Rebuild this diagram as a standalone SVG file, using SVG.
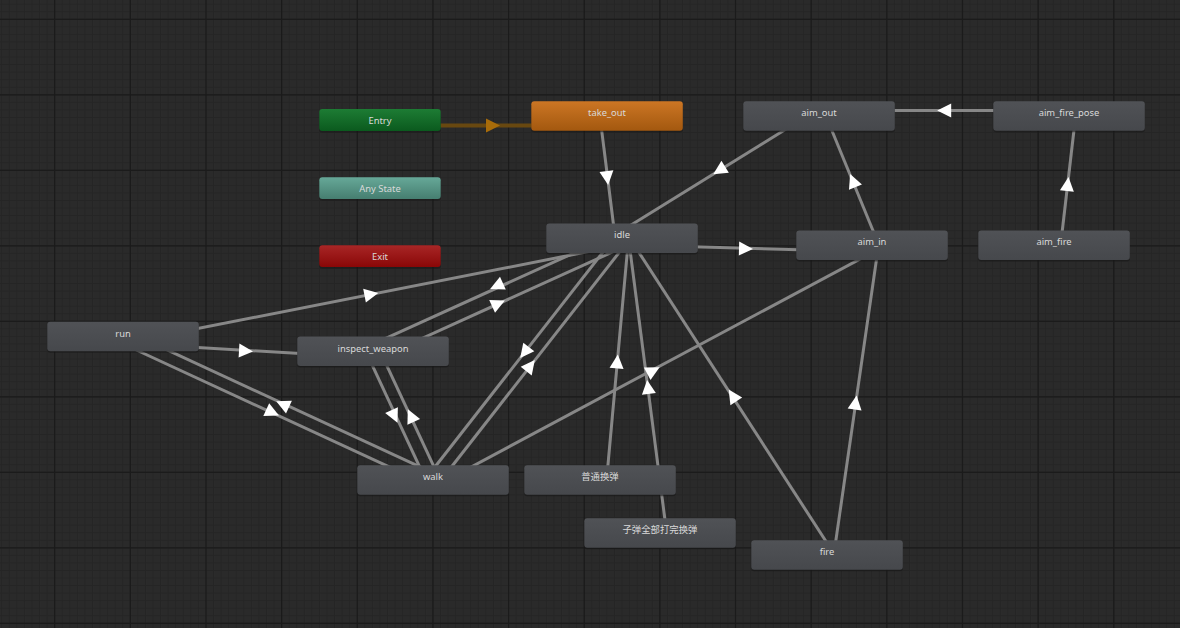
<svg xmlns="http://www.w3.org/2000/svg" width="1180" height="628" viewBox="0 0 1180 628">
<defs>
<pattern id="minor" x="54.2" y="18.8" width="7.565" height="7.55" patternUnits="userSpaceOnUse">
<path d="M0 0.5H7.565M0.5 0V7.55" stroke="#252525" stroke-width="1" fill="none"/>
</pattern>
<linearGradient id="gGrey" x1="0" y1="0" x2="0" y2="1"><stop offset="0" stop-color="#505256"/><stop offset="1" stop-color="#46484c"/></linearGradient>
<linearGradient id="gOrange" x1="0" y1="0" x2="0" y2="1"><stop offset="0" stop-color="#cc7624"/><stop offset="1" stop-color="#a3580f"/></linearGradient>
<linearGradient id="gGreen" x1="0" y1="0" x2="0" y2="1"><stop offset="0" stop-color="#1d7c34"/><stop offset="1" stop-color="#0b5a1e"/></linearGradient>
<linearGradient id="gTeal" x1="0" y1="0" x2="0" y2="1"><stop offset="0" stop-color="#66a898"/><stop offset="1" stop-color="#467e70"/></linearGradient>
<linearGradient id="gRed" x1="0" y1="0" x2="0" y2="1"><stop offset="0" stop-color="#a82626"/><stop offset="1" stop-color="#8a0707"/></linearGradient>
<path id="arrow" d="M7 0L-7 -7L-7 7Z"/>
<style>
.bg{fill:#2a2a2a}
.major{stroke:#1b1b1b;stroke-width:1.2}
.conn line{stroke:#878787;stroke-width:3}
.ah{fill:#ffffff}
.shadow{fill:#161616;opacity:0.55}
.grey{fill:url(#gGrey)}
.lbl{font-family:"Noto Sans","Noto Sans CJK SC",sans-serif;font-size:9.4px;fill:#d9d9d9;text-anchor:middle}
</style>
</defs>
<rect class="bg" x="0" y="0" width="1180" height="628"/>
<rect x="0" y="0" width="1180" height="628" fill="url(#minor)"/>
<g class="major">
<line x1="54.7" y1="0" x2="54.7" y2="628"/><line x1="130.35" y1="0" x2="130.35" y2="628"/><line x1="206" y1="0" x2="206" y2="628"/><line x1="281.65" y1="0" x2="281.65" y2="628"/><line x1="357.3" y1="0" x2="357.3" y2="628"/><line x1="432.95" y1="0" x2="432.95" y2="628"/><line x1="508.6" y1="0" x2="508.6" y2="628"/><line x1="584.25" y1="0" x2="584.25" y2="628"/><line x1="659.9" y1="0" x2="659.9" y2="628"/><line x1="735.55" y1="0" x2="735.55" y2="628"/><line x1="811.2" y1="0" x2="811.2" y2="628"/><line x1="886.85" y1="0" x2="886.85" y2="628"/><line x1="962.5" y1="0" x2="962.5" y2="628"/><line x1="1038.15" y1="0" x2="1038.15" y2="628"/><line x1="1113.8" y1="0" x2="1113.8" y2="628"/>
<line x1="0" y1="19.3" x2="1180" y2="19.3"/><line x1="0" y1="94.8" x2="1180" y2="94.8"/><line x1="0" y1="170.3" x2="1180" y2="170.3"/><line x1="0" y1="245.8" x2="1180" y2="245.8"/><line x1="0" y1="321.3" x2="1180" y2="321.3"/><line x1="0" y1="396.8" x2="1180" y2="396.8"/><line x1="0" y1="472.3" x2="1180" y2="472.3"/><line x1="0" y1="547.8" x2="1180" y2="547.8"/><line x1="0" y1="623.3" x2="1180" y2="623.3"/>
</g>

<g id="connectors" class="conn">
<line x1="380" y1="125.5" x2="607" y2="125.5" style="stroke:#684810;stroke-width:4"/>
<line x1="600" y1="117" x2="615.3" y2="239"/>
<line x1="815.6" y1="110.8" x2="618.6" y2="232.8"/>
<line x1="1069" y1="110.5" x2="819" y2="110.5"/>
<line x1="878" y1="242.8" x2="825" y2="113.8"/>
<line x1="1060.5" y1="246" x2="1075.5" y2="117"/>
<line x1="621.8" y1="244.8" x2="871.8" y2="251.8"/>
<line x1="833.6" y1="556.1" x2="878.4" y2="246.2"/>
<line x1="832.7" y1="551.7" x2="627.5" y2="234.8"/>
<line x1="124.1" y1="343" x2="623.3" y2="244.7"/>
<line x1="122.4" y1="343.1" x2="372.6" y2="357.8"/>
<line x1="619.3" y1="232.4" x2="370.3" y2="345.4"/>
<line x1="376.7" y1="359" x2="625.7" y2="246"/>
<line x1="120.1" y1="342.5" x2="430.3" y2="485.9"/>
<line x1="435.7" y1="474.1" x2="125.5" y2="330.7"/>
<line x1="367.1" y1="354.1" x2="427.1" y2="482.8"/>
<line x1="438.9" y1="477.3" x2="378.9" y2="348.6"/>
<line x1="438.1" y1="484" x2="627.1" y2="242.3"/>
<line x1="616.9" y1="234.3" x2="427.9" y2="476"/>
<line x1="436.1" y1="485.7" x2="875.1" y2="251"/>
<line x1="606.5" y1="480.8" x2="628.5" y2="238.9"/>
<line x1="666.6" y1="532.4" x2="628.4" y2="237.5"/>
<use href="#arrow" transform="translate(493 125.5)" style="fill:#a86c0a"/>
<use class="ah" href="#arrow" transform="translate(607.3 178) rotate(82.8)"/>
<use class="ah" href="#arrow" transform="translate(719.2 170.5) rotate(148.2)"/>
<use class="ah" href="#arrow" transform="translate(944.2 110.5) rotate(180)"/>
<use class="ah" href="#arrow" transform="translate(852.8 180.6) rotate(-112.3)"/>
<use class="ah" href="#arrow" transform="translate(1067.7 184) rotate(-83.4)"/>
<use class="ah" href="#arrow" transform="translate(746 248.8) rotate(1.6)"/>
<use class="ah" href="#arrow" transform="translate(855.6 402.5) rotate(-81.8)"/>
<use class="ah" href="#arrow" transform="translate(732.5 395.5) rotate(-122.9)"/>
<use class="ah" href="#arrow" transform="translate(371.4 294.3) rotate(-11.1)"/>
<use class="ah" href="#arrow" transform="translate(246 351) rotate(3.4)"/>
<use class="ah" href="#arrow" transform="translate(496.5 286) rotate(155.6)"/>
<use class="ah" href="#arrow" transform="translate(498.5 303.5) rotate(-24.4)"/>
<use class="ah" href="#arrow" transform="translate(272.6 412.5) rotate(24.8)"/>
<use class="ah" href="#arrow" transform="translate(282.6 404.2) rotate(204.8)"/>
<use class="ah" href="#arrow" transform="translate(394.5 416.5) rotate(65)"/>
<use class="ah" href="#arrow" transform="translate(410.8 415.5) rotate(245)"/>
<use class="ah" href="#arrow" transform="translate(530.5 365.6) rotate(-52)"/>
<use class="ah" href="#arrow" transform="translate(524.5 352.5) rotate(128)"/>
<use class="ah" href="#arrow" transform="translate(653.4 370.5) rotate(-28.1)"/>
<use class="ah" href="#arrow" transform="translate(617.2 361.5) rotate(-84.8)"/>
<use class="ah" href="#arrow" transform="translate(648 387) rotate(-97.4)"/>
</g>

<g id="entry"><rect class="shadow" x="319.3" y="110.5" width="121.4" height="22" rx="3"/><rect x="319.3" y="109" width="121.4" height="22" rx="3" fill="url(#gGreen)"/><text class="lbl" x="380" y="123.5">Entry</text></g>
<g id="any_state"><rect class="shadow" x="319.3" y="178.8" width="121.4" height="21.7" rx="3"/><rect x="319.3" y="177.3" width="121.4" height="21.7" rx="3" fill="url(#gTeal)"/><text class="lbl" x="380" y="191.7">Any State</text></g>
<g id="exit"><rect class="shadow" x="319.3" y="246.8" width="121.4" height="21.7" rx="3"/><rect x="319.3" y="245.3" width="121.4" height="21.7" rx="3" fill="url(#gRed)"/><text class="lbl" x="380" y="259.7">Exit</text></g>

<g id="take_out"><rect class="shadow" x="531.3" y="102.8" width="151.5" height="29.5" rx="3"/><rect x="531.3" y="101.3" width="151.5" height="29.5" rx="3" fill="url(#gOrange)"/><text class="lbl" x="607" y="116.3">take_out</text></g>
<g id="idle"><rect class="shadow" x="546.3" y="224.9" width="151.5" height="29.5" rx="3"/><rect class="grey" x="546.3" y="223.4" width="151.5" height="29.5" rx="3"/><text class="lbl" x="622" y="238.4">idle</text></g>
<g id="aim_out"><rect class="shadow" x="743.3" y="102.8" width="151.5" height="29.5" rx="3"/><rect class="grey" x="743.3" y="101.3" width="151.5" height="29.5" rx="3"/><text class="lbl" x="819" y="116.3">aim_out</text></g>
<g id="aim_fire_pose"><rect class="shadow" x="993.3" y="102.8" width="151.5" height="29.5" rx="3"/><rect class="grey" x="993.3" y="101.3" width="151.5" height="29.5" rx="3"/><text class="lbl" x="1069" y="116.3">aim_fire_pose</text></g>
<g id="aim_in"><rect class="shadow" x="796.3" y="231.9" width="151.5" height="29.5" rx="3"/><rect class="grey" x="796.3" y="230.4" width="151.5" height="29.5" rx="3"/><text class="lbl" x="872" y="245.4">aim_in</text></g>
<g id="aim_fire"><rect class="shadow" x="978.3" y="231.9" width="151.5" height="29.5" rx="3"/><rect class="grey" x="978.3" y="230.4" width="151.5" height="29.5" rx="3"/><text class="lbl" x="1054" y="245.4">aim_fire</text></g>
<g id="run"><rect class="shadow" x="47.3" y="323.2" width="151.5" height="29.5" rx="3"/><rect class="grey" x="47.3" y="321.7" width="151.5" height="29.5" rx="3"/><text class="lbl" x="123" y="336.7">run</text></g>
<g id="inspect_weapon"><rect class="shadow" x="297.3" y="338.1" width="151.5" height="29.5" rx="3"/><rect class="grey" x="297.3" y="336.6" width="151.5" height="29.5" rx="3"/><text class="lbl" x="373" y="351.6">inspect_weapon</text></g>
<g id="walk"><rect class="shadow" x="357.3" y="466.7" width="151.5" height="29.5" rx="3"/><rect class="grey" x="357.3" y="465.2" width="151.5" height="29.5" rx="3"/><text class="lbl" x="433" y="480.2">walk</text></g>
<g id="reload_normal"><rect class="shadow" x="524.3" y="466.8" width="151.5" height="29.5" rx="3"/><rect class="grey" x="524.3" y="465.3" width="151.5" height="29.5" rx="3"/><text class="lbl" x="600" y="480.3">普通换弹</text></g>
<g id="reload_empty"><rect class="shadow" x="584.3" y="519.8" width="151.5" height="29.5" rx="3"/><rect class="grey" x="584.3" y="518.3" width="151.5" height="29.5" rx="3"/><text class="lbl" x="660" y="533.3">子弹全部打完换弹</text></g>
<g id="fire"><rect class="shadow" x="751.3" y="541.8" width="151.5" height="29.5" rx="3"/><rect class="grey" x="751.3" y="540.3" width="151.5" height="29.5" rx="3"/><text class="lbl" x="827" y="555.3">fire</text></g>
</svg>
